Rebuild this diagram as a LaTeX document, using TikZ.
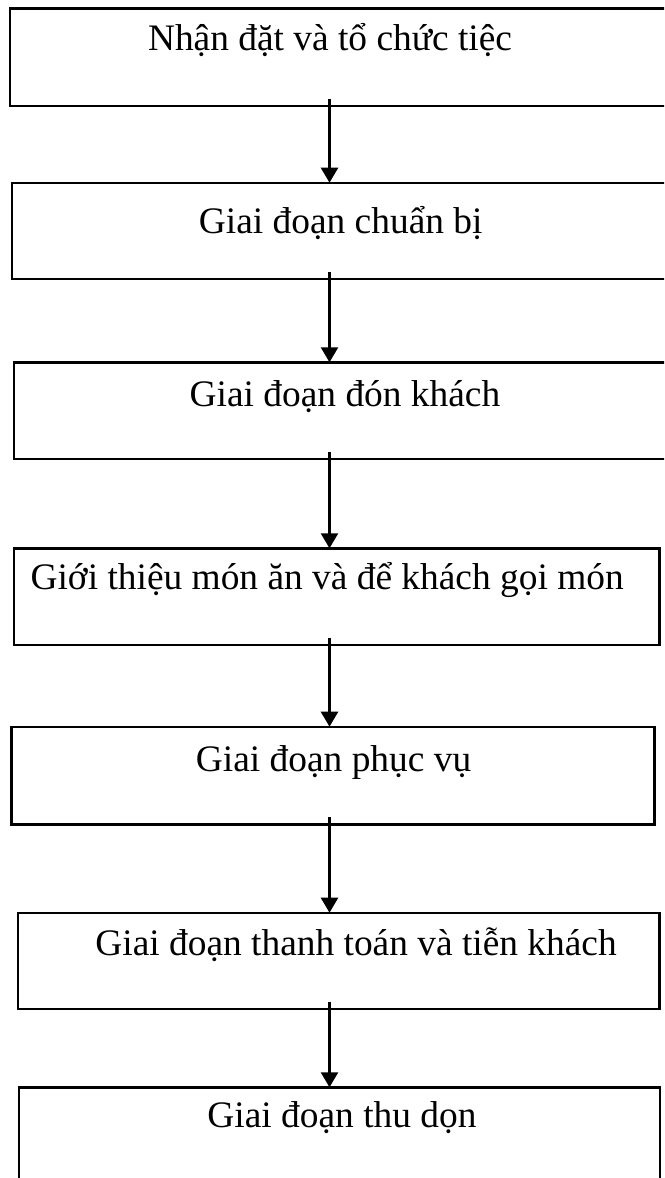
\documentclass[tikz,border=0pt]{standalone}
\usepackage{fontspec}
\setmainfont{Liberation Serif}
\usetikzlibrary{arrows.meta}
% width, height, text height, text depth
\tikzset{
  stepbox/.style n args={4}{draw, line width=2.4pt, anchor=north west,
    inner xsep=0pt, inner ysep=0pt, outer sep=0pt,
    minimum width=#1, minimum height=#2, text height=#3, text depth=#4,
    font=\fontsize{37.4}{44}\selectfont},
  flow/.style={line width=2.4pt, -{Triangle[length=15pt,width=17pt]}}
}

\begin{document}
\begin{tikzpicture}[x=1pt,y=-1pt]
  \useasboundingbox (0,0) rectangle (664,1178);
  \clip (0,0) rectangle (664,1178);
  \coordinate (axis) at (329.5,0);

  \node[stepbox={662pt}{97.7pt}{41.7pt}{56pt}] (order) at (10,8.3)
    {\hspace*{-22pt}Nhận đặt và tổ chức tiệc};
  \node[stepbox={660pt}{96.3pt}{50.6pt}{45.7pt}] (prep) at (11.7,182.7)
    {\hspace*{-2pt}Giai đoạn chuẩn bị};
  \node[stepbox={658pt}{96.7pt}{44.4pt}{52.3pt}] (greet) at (14,362.3)
    {\hspace*{4pt}Giai đoạn đón khách};
  \node[stepbox={645.3pt}{96.7pt}{41pt}{55.7pt}] (menu) at (14,548.3)
    {\hspace*{-19pt}Giới thiệu món ăn và để khách gọi món};
  \node[stepbox={642.9pt}{97.6pt}{45pt}{52.6pt}] (serve) at (11.4,726.7)
    {\hspace*{1.5pt}Giai đoạn phục vụ};
  \node[stepbox={641.5pt}{96.3pt}{42.3pt}{54pt}] (pay) at (17.8,912.7)
    {\hspace*{35pt}Giai đoạn thanh toán và tiễn khách};
  \node[stepbox={641pt}{97.7pt}{40pt}{57.7pt}] (clean) at (19,1087.3)
    {\hspace*{5pt}Giai đoạn thu dọn};

  \foreach \a/\b in {order/prep, prep/greet, greet/menu, menu/serve,
                     serve/pay, pay/clean}
    \draw[flow] ([yshift=7pt]\a.south -| axis) -- (\b.north -| axis);
\end{tikzpicture}
\end{document}
